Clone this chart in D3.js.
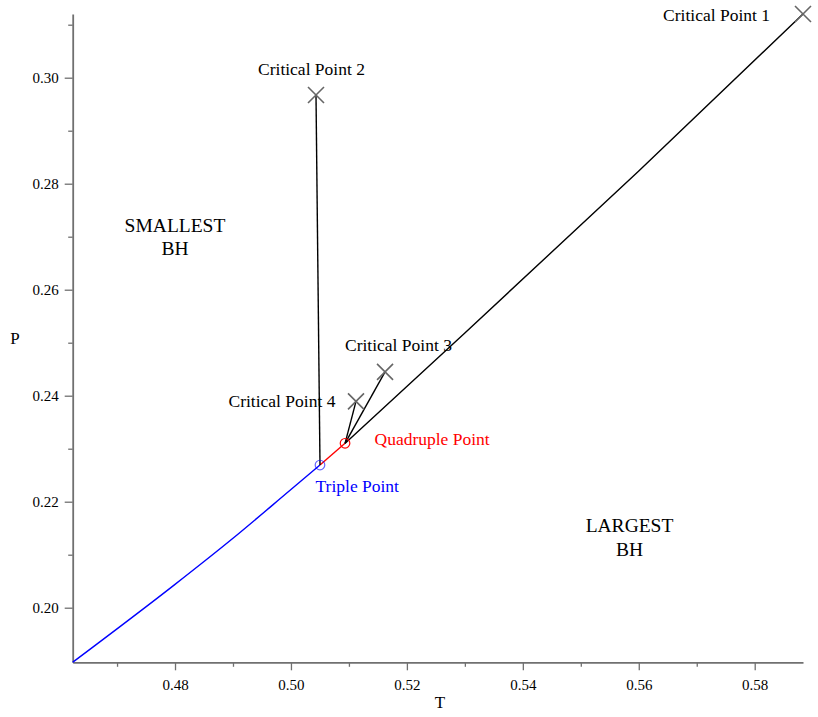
<!DOCTYPE html>
<html>
<head>
<meta charset="utf-8">
<script src="https://cdn.jsdelivr.net/npm/d3@7"></script>
<style>
  html, body { margin: 0; padding: 0; background: #fff; }
  svg { display: block; }
  text { font-family: "Liberation Serif", "Times New Roman", serif; }
</style>
</head>
<body>
<svg id="chart" width="818" height="717"></svg>
<script>
// ---- data ----
const xDomain = [0.46235, 0.58833];
const yDomain = [0.1897, 0.31202];
const xMajorTicks = [0.48, 0.50, 0.52, 0.54, 0.56, 0.58];
const xMinorTicks = [0.47, 0.49, 0.51, 0.53, 0.55, 0.57];
const yMajorTicks = [0.20, 0.22, 0.24, 0.26, 0.28, 0.30];
const yMinorTicks = [0.21, 0.23, 0.25, 0.27, 0.29, 0.31];

// coexistence line small/large (blue): T, P
const blueT = [0.46235, 0.48, 0.49, 0.50, 0.50501];
const blueP = [0.1897, 0.2044, 0.2131, 0.2223, 0.22692];
// red segment triple -> quadruple
const redT = [0.50501, 0.50933];
const redP = [0.22692, 0.23102];
// black line quadruple -> critical point 1
const line1T = [0.50933, 0.53, 0.56, 0.58833];
const line1P = [0.23102, 0.25183, 0.2824, 0.31202];
// black line triple -> critical point 2
const line2T = [0.50501, 0.50432];
const line2P = [0.22692, 0.29674];
// black line quadruple -> critical point 3
const line3T = [0.50933, 0.51623];
const line3P = [0.23102, 0.24449];
// black line quadruple -> critical point 4
const line4T = [0.50933, 0.51122];
const line4P = [0.23102, 0.23894];

const criticalNames = ["Critical Point 1", "Critical Point 2", "Critical Point 3", "Critical Point 4"];
const criticalT = [0.58833, 0.50432, 0.51623, 0.51122];
const criticalP = [0.31202, 0.29674, 0.24449, 0.23894];

const specialNames = ["Triple Point", "Quadruple Point"];
const specialT = [0.50501, 0.50933];
const specialP = [0.22692, 0.23102];
const specialColors = ["#0000ff", "#ff0000"];

// ---- chart ----
const svg = d3.select("#chart");
const x = d3.scaleLinear().domain(xDomain).range([72.7, 803]);
const y = d3.scaleLinear().domain(yDomain).range([662.3, 14]);

const axisColor = "#707070";

// X axis
const gx = svg.append("g").attr("transform", `translate(0,${y(yDomain[0])})`);
gx.call(d3.axisBottom(x).tickValues(xMajorTicks).tickSize(8).tickSizeOuter(0).tickPadding(9)
  .tickFormat(d3.format(".2f")));
const gxm = svg.append("g").attr("transform", `translate(0,${y(yDomain[0])})`);
gxm.call(d3.axisBottom(x).tickValues(xMinorTicks).tickSize(4.5).tickSizeOuter(0).tickFormat(""));
gxm.select(".domain").remove();

// Y axis
const gy = svg.append("g").attr("transform", `translate(${x(xDomain[0])},0)`);
gy.call(d3.axisLeft(y).tickValues(yMajorTicks).tickSize(8).tickSizeOuter(0).tickPadding(6)
  .tickFormat(d3.format(".2f")));
const gym = svg.append("g").attr("transform", `translate(${x(xDomain[0])},0)`);
gym.call(d3.axisLeft(y).tickValues(yMinorTicks).tickSize(4.5).tickSizeOuter(0).tickFormat(""));
gym.select(".domain").remove();

[gx, gxm, gy, gym].forEach(g => {
  g.selectAll(".domain").attr("stroke", axisColor).attr("stroke-width", 1.8);
  g.selectAll(".tick line").attr("stroke", axisColor).attr("stroke-width", 1.3);
  g.selectAll(".tick text").attr("fill", "#000").style("font-size", "15px")
    .style("font-family", '"Liberation Serif", serif');
});

// axis labels
svg.append("text").attr("x", 440).attr("y", 708).attr("text-anchor", "middle")
  .style("font-size", "17px").text("T");
svg.append("text").attr("x", 15).attr("y", 344).attr("text-anchor", "middle")
  .style("font-size", "17px").text("P");

// lines
const zip = (a, b) => a.map((v, i) => [v, b[i]]);
const smooth = d3.line().x(d => x(d[0])).y(d => y(d[1])).curve(d3.curveMonotoneX);
const straight = d3.line().x(d => x(d[0])).y(d => y(d[1]));

svg.append("path").datum(zip(blueT, blueP)).attr("d", smooth)
  .attr("fill", "none").attr("stroke", "#0000ff").attr("stroke-width", 1.4);
svg.append("path").datum(zip(redT, redP)).attr("d", straight)
  .attr("fill", "none").attr("stroke", "#ff0000").attr("stroke-width", 1.4);
svg.append("path").datum(zip(line1T, line1P)).attr("d", smooth)
  .attr("fill", "none").attr("stroke", "#000").attr("stroke-width", 1.4);
[[line2T, line2P], [line3T, line3P], [line4T, line4P]].forEach(([T, P]) => {
  svg.append("path").datum(zip(T, P)).attr("d", straight)
    .attr("fill", "none").attr("stroke", "#000").attr("stroke-width", 1.4);
});

// critical point X markers
const s = 8;
criticalT.forEach((t, i) => {
  const cx = x(t), cy = y(criticalP[i]);
  svg.append("path")
    .attr("d", `M${cx - s},${cy - s}L${cx + s},${cy + s}M${cx - s},${cy + s}L${cx + s},${cy - s}`)
    .attr("stroke", "#666").attr("stroke-width", 1.6).attr("fill", "none");
});

// special points circles
specialT.forEach((t, i) => {
  svg.append("circle").attr("cx", x(t)).attr("cy", y(specialP[i])).attr("r", 4.8)
    .attr("fill", "none").attr("stroke", specialColors[i]).attr("stroke-width", 1.2)
    .attr("stroke-opacity", i === 0 ? 0.6 : 1);
});

// annotation labels
const annFont = "17.5px";
const annotations = [
  { text: criticalNames[0], x: 770, y: 21, anchor: "end", color: "#000" },
  { text: criticalNames[1], x: 311.5, y: 75, anchor: "middle", color: "#000" },
  { text: criticalNames[2], x: 345, y: 351, anchor: "start", color: "#000" },
  { text: criticalNames[3], x: 228.5, y: 407, anchor: "start", color: "#000" },
  { text: specialNames[1], x: 374.5, y: 445, anchor: "start", color: "#ff0000" },
  { text: specialNames[0], x: 315.5, y: 492, anchor: "start", color: "#0000ff" }
];
annotations.forEach(a => {
  svg.append("text").attr("x", a.x).attr("y", a.y).attr("text-anchor", a.anchor)
    .attr("fill", a.color).style("font-size", annFont).text(a.text);
});

// region labels
const regions = [
  { lines: ["SMALLEST", "BH"], x: 175, y: 231.5 },
  { lines: ["LARGEST", "BH"], x: 629.5, y: 532.3 }
];
regions.forEach(r => {
  r.lines.forEach((l, j) => {
    svg.append("text").attr("x", r.x).attr("y", r.y + j * 23.5).attr("text-anchor", "middle")
      .style("font-size", "19.5px").attr("fill", "#000").text(l);
  });
});
</script>
</body>
</html>
